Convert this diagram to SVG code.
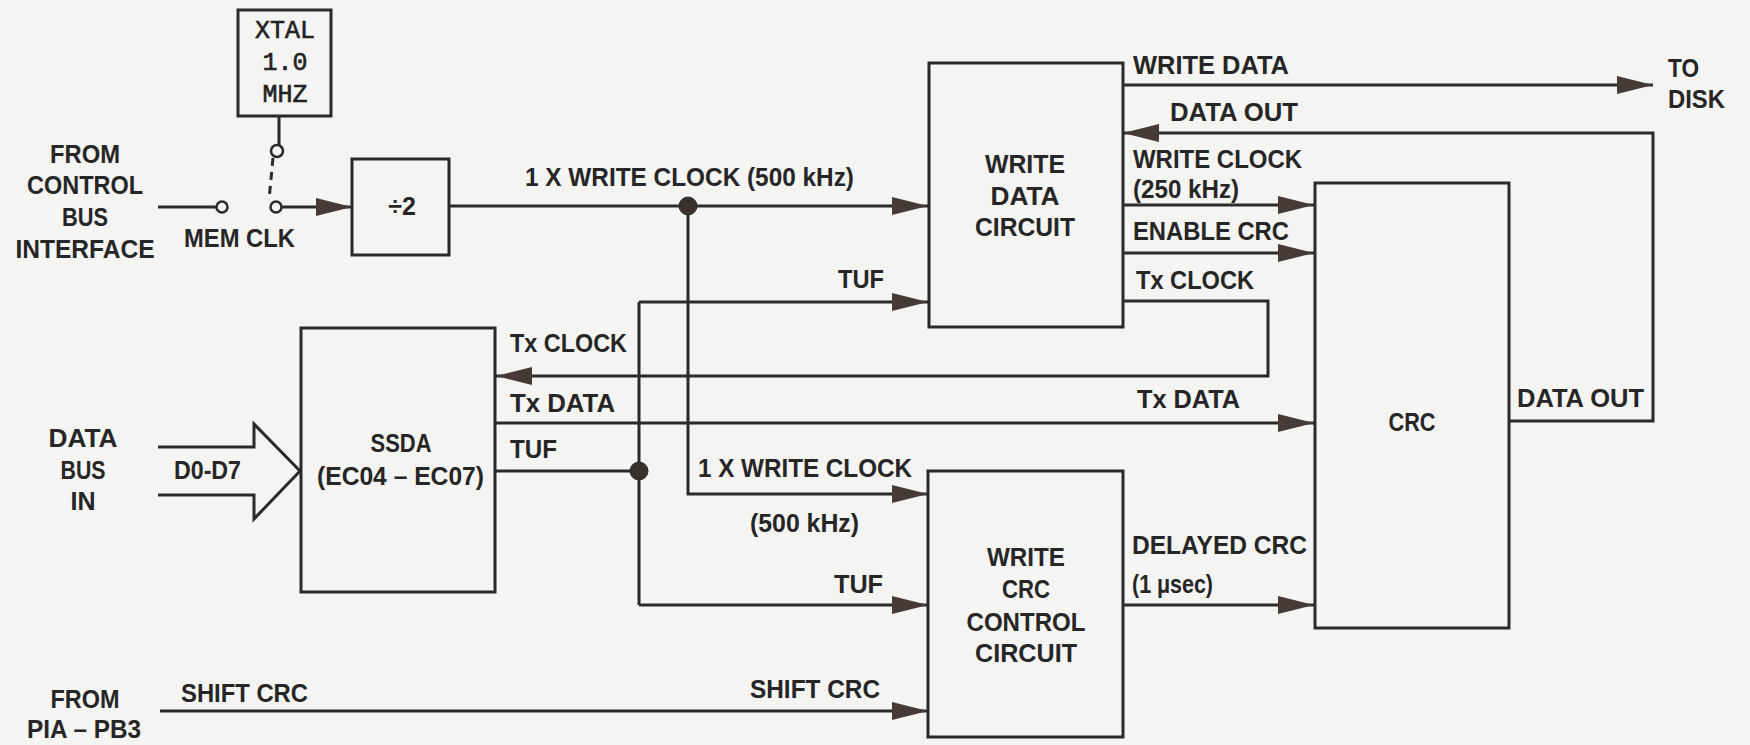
<svg xmlns="http://www.w3.org/2000/svg" width="1750" height="745" viewBox="0 0 1750 745">
<defs>
<style>
.bg{fill:#f4f4f2}
.box{fill:none;stroke:#2a2a2a;stroke-width:3}
.ln{fill:none;stroke:#2a2a2a;stroke-width:3}
.t{font-family:"Liberation Sans",Arial,sans-serif;font-size:25px;font-weight:bold;fill:#262626}
.m{font-family:"Liberation Mono","Courier New",monospace;font-size:25px;fill:#222;stroke:#222;stroke-width:0.6;text-anchor:middle}
.c{text-anchor:middle}
.dot{fill:#3a302d;stroke:#2a2a2a;stroke-width:1}
.ring{fill:#f4f4f2;stroke:#2a2a2a;stroke-width:2.5}
</style>
<marker id="ah" viewBox="0 0 36 20" refX="36" refY="10" markerWidth="36" markerHeight="20" markerUnits="userSpaceOnUse" orient="auto">
<path d="M0,1 L36,10 L0,19 Z" fill="#463a36"/>
</marker>
</defs>
<rect class="bg" x="0" y="0" width="1750" height="745"/>

<g id="connectors">
<path class="ln" d="M158,207 L216,207"/>
<path class="ln" d="M279,116 L279,145"/>
<path class="ln" d="M273,158 L269,200" stroke-dasharray="8 6"/>
<path class="ln" d="M282,207 L352,207" marker-end="url(#ah)"/>
<path class="ln" d="M450,206 L928,206" marker-end="url(#ah)"/>
<path class="ln" d="M688,206 L688,494 L928,494" marker-end="url(#ah)"/>
<path class="ln" d="M496,471 L639,471"/>
<path class="ln" d="M639,302 L639,605"/>
<path class="ln" d="M639,302 L928,302" marker-end="url(#ah)"/>
<path class="ln" d="M639,605 L928,605" marker-end="url(#ah)"/>
<path class="ln" d="M1123,301 L1268,301 L1268,376 L496,376" marker-end="url(#ah)"/>
<path class="ln" d="M496,423 L1314,423" marker-end="url(#ah)"/>
<path class="ln" d="M1123,85 L1653,85" marker-end="url(#ah)"/>
<path class="ln" d="M1509,421 L1653,421 L1653,133 L1123,133" marker-end="url(#ah)"/>
<path class="ln" d="M1123,205 L1314,205" marker-end="url(#ah)"/>
<path class="ln" d="M1123,253 L1314,253" marker-end="url(#ah)"/>
<path class="ln" d="M1123,605 L1314,605" marker-end="url(#ah)"/>
<path class="ln" d="M160,711 L928,711" marker-end="url(#ah)"/>
<path class="ln" d="M158,447 L254,447 L254,424 L300,471 L254,519 L254,495 L158,495"/>
<circle class="ring" cx="222" cy="207" r="5.5"/>
<circle class="ring" cx="276" cy="207" r="5.5"/>
<circle class="ring" cx="277" cy="151" r="6"/>
<circle class="dot" cx="688" cy="206" r="9"/>
<circle class="dot" cx="639" cy="471" r="9"/>
</g>

<g id="xtal">
<rect class="box" x="238" y="10" width="93" height="106"/>
<text class="m" x="285" y="38">XTAL</text>
<text class="m" x="285" y="70">1.0</text>
<text class="m" x="285" y="102">MHZ</text>
</g>

<g id="div2">
<rect class="box" x="352" y="159" width="97" height="96"/>
<text class="t c" x="402" y="215">÷2</text>
</g>

<g id="write-data-circuit">
<rect class="box" x="929" y="63" width="194" height="264"/>
<text class="t c" x="1025" y="173" textLength="80" lengthAdjust="spacingAndGlyphs">WRITE</text>
<text class="t c" x="1025" y="205" textLength="69" lengthAdjust="spacingAndGlyphs">DATA</text>
<text class="t c" x="1025" y="236" textLength="100" lengthAdjust="spacingAndGlyphs">CIRCUIT</text>
</g>

<g id="ssda">
<rect class="box" x="301" y="328" width="194" height="264"/>
<text class="t c" x="401" y="452" textLength="61" lengthAdjust="spacingAndGlyphs">SSDA</text>
<text class="t" x="317" y="485" textLength="167" lengthAdjust="spacingAndGlyphs">(EC04 – EC07)</text>
</g>

<g id="write-crc-control-circuit">
<rect class="box" x="928" y="471" width="195" height="266"/>
<text class="t c" x="1026" y="566" textLength="78" lengthAdjust="spacingAndGlyphs">WRITE</text>
<text class="t c" x="1026" y="598" textLength="48" lengthAdjust="spacingAndGlyphs">CRC</text>
<text class="t c" x="1026" y="631" textLength="119" lengthAdjust="spacingAndGlyphs">CONTROL</text>
<text class="t c" x="1026" y="662" textLength="102" lengthAdjust="spacingAndGlyphs">CIRCUIT</text>
</g>

<g id="crc">
<rect class="box" x="1315" y="183" width="194" height="445"/>
<text class="t c" x="1412" y="431" textLength="47" lengthAdjust="spacingAndGlyphs">CRC</text>
</g>

<g id="labels">
<text class="t c" x="85" y="163" textLength="70" lengthAdjust="spacingAndGlyphs">FROM</text>
<text class="t c" x="85" y="194" textLength="116" lengthAdjust="spacingAndGlyphs">CONTROL</text>
<text class="t c" x="85" y="226" textLength="46" lengthAdjust="spacingAndGlyphs">BUS</text>
<text class="t c" x="85" y="258" textLength="139" lengthAdjust="spacingAndGlyphs">INTERFACE</text>
<text class="t" x="184" y="247" textLength="111" lengthAdjust="spacingAndGlyphs">MEM CLK</text>
<text class="t" x="525" y="186" textLength="329" lengthAdjust="spacingAndGlyphs">1 X WRITE CLOCK (500 kHz)</text>
<text class="t" x="1133" y="74" textLength="156" lengthAdjust="spacingAndGlyphs">WRITE DATA</text>
<text class="t" x="1170" y="121" textLength="128" lengthAdjust="spacingAndGlyphs">DATA OUT</text>
<text class="t" x="1133" y="168" textLength="169" lengthAdjust="spacingAndGlyphs">WRITE CLOCK</text>
<text class="t" x="1133" y="198" textLength="106" lengthAdjust="spacingAndGlyphs">(250 kHz)</text>
<text class="t" x="1133" y="240" textLength="156" lengthAdjust="spacingAndGlyphs">ENABLE CRC</text>
<text class="t" x="1136" y="289" textLength="118" lengthAdjust="spacingAndGlyphs">Tx CLOCK</text>
<text class="t" x="1668" y="77" textLength="31" lengthAdjust="spacingAndGlyphs">TO</text>
<text class="t" x="1668" y="108" textLength="57" lengthAdjust="spacingAndGlyphs">DISK</text>
<text class="t" x="838" y="288" textLength="46" lengthAdjust="spacingAndGlyphs">TUF</text>
<text class="t" x="510" y="352" textLength="117" lengthAdjust="spacingAndGlyphs">Tx CLOCK</text>
<text class="t" x="510" y="412" textLength="105" lengthAdjust="spacingAndGlyphs">Tx DATA</text>
<text class="t" x="510" y="458" textLength="47" lengthAdjust="spacingAndGlyphs">TUF</text>
<text class="t" x="1137" y="408" textLength="103" lengthAdjust="spacingAndGlyphs">Tx DATA</text>
<text class="t" x="1517" y="407" textLength="127" lengthAdjust="spacingAndGlyphs">DATA OUT</text>
<text class="t c" x="83" y="447" textLength="69" lengthAdjust="spacingAndGlyphs">DATA</text>
<text class="t c" x="83" y="479" textLength="45" lengthAdjust="spacingAndGlyphs">BUS</text>
<text class="t c" x="83" y="510" textLength="25" lengthAdjust="spacingAndGlyphs">IN</text>
<text class="t" x="174" y="479" textLength="67" lengthAdjust="spacingAndGlyphs">D0-D7</text>
<text class="t" x="698" y="477" textLength="214" lengthAdjust="spacingAndGlyphs">1 X WRITE CLOCK</text>
<text class="t" x="750" y="532" textLength="109" lengthAdjust="spacingAndGlyphs">(500 kHz)</text>
<text class="t" x="834" y="593" textLength="49" lengthAdjust="spacingAndGlyphs">TUF</text>
<text class="t" x="750" y="698" textLength="130" lengthAdjust="spacingAndGlyphs">SHIFT CRC</text>
<text class="t" x="1132" y="554" textLength="175" lengthAdjust="spacingAndGlyphs">DELAYED CRC</text>
<text class="t" x="1132" y="593" textLength="81" lengthAdjust="spacingAndGlyphs">(1 μsec)</text>
<text class="t" x="181" y="702" textLength="127" lengthAdjust="spacingAndGlyphs">SHIFT CRC</text>
<text class="t c" x="85" y="708" textLength="69" lengthAdjust="spacingAndGlyphs">FROM</text>
<text class="t" x="27" y="738" textLength="114" lengthAdjust="spacingAndGlyphs">PIA – PB3</text>
</g>
</svg>
